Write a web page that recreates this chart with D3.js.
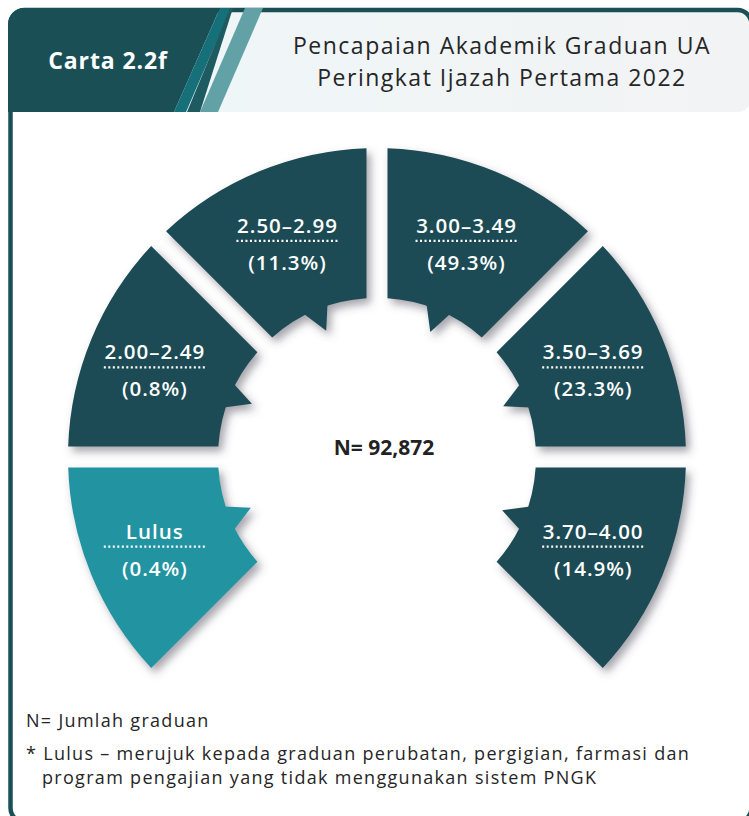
<!DOCTYPE html>
<head>
<meta charset="utf-8">
<script src="https://d3js.org/d3.v7.min.js"></script>
<style>
body {
  margin: 0;
  background-color: #fff;
}
text {
  font-family: "Open Sans", sans-serif;
}
</style>
</head>
<body>
<svg id="chart" width="749" height="816"></svg>

<script>
// data
var categories = ["Lulus", "2.00–2.49", "2.50–2.99", "3.00–3.49", "3.50–3.69", "3.70–4.00"];
var shares = [0.4, 0.8, 11.3, 49.3, 23.3, 14.9];
var totalN = 92872;
var chartNo = "Carta 2.2f";
var titleLines = ["Pencapaian Akademik Graduan UA", "Peringkat Ijazah Pertama 2022"];
var notes = ["N= Jumlah graduan",
             "* Lulus – merujuk kepada graduan perubatan, pergigian, farmasi dan",
             "program pengajian yang tidak menggunakan sistem PNGK"];

var dark = "#1b4b54",
    frameCol = "#194f55",
    light = "#2393a0";

var svg = d3.select("#chart");
var width = +svg.attr("width"),
    height = +svg.attr("height");

var defs = svg.append("defs");

var grad = defs.append("linearGradient").attr("id", "hdr");
grad.append("stop").attr("offset", "0%").attr("stop-color", "#eef7f9");
grad.append("stop").attr("offset", "100%").attr("stop-color", "#f2f3f4");

var shadow = defs.append("filter").attr("id", "shadow")
    .attr("x", "-20%").attr("y", "-20%").attr("width", "140%").attr("height", "140%");
shadow.append("feDropShadow")
    .attr("dx", 4).attr("dy", 5)
    .attr("stdDeviation", 4)
    .attr("flood-color", "#4a4a5a")
    .attr("flood-opacity", 0.5);

// ---- card + header ----
svg.append("rect")
    .attr("x", 10).attr("y", 10)
    .attr("width", 740).attr("height", 102)
    .attr("rx", 12)
    .attr("fill", "url(#hdr)");

svg.append("rect")
    .attr("x", 10.5).attr("y", 10)
    .attr("width", 741).attr("height", 812)
    .attr("rx", 14)
    .attr("fill", "none")
    .attr("stroke", frameCol)
    .attr("stroke-width", 4.5);

svg.append("path")
    .attr("d", "M8,112 V24 A16,16 0 0 1 24,8 H220 L174,112 Z")
    .attr("fill", frameCol);

svg.append("path")
    .attr("d", "M220,8 H231 L186,112 H174 Z")
    .attr("fill", "#16707a");

svg.append("path")
    .attr("d", "M230,8 H233 L200,112 H187 Z")
    .attr("fill", "#1e5b60");

svg.append("path")
    .attr("d", "M245,8 H263 L218,112 H200 Z")
    .attr("fill", "#62a1a5");

svg.append("text")
    .attr("x", 108).attr("y", 69)
    .attr("text-anchor", "middle")
    .attr("fill", "#fff")
    .attr("font-size", 23)
    .attr("font-weight", 700)
    .attr("letter-spacing", 0.9)
    .text(chartNo);

svg.selectAll(".title")
    .data(titleLines)
    .enter().append("text")
    .attr("class", "title")
    .attr("x", 502)
    .attr("y", function(d, i) { return 54 + i * 32; })
    .attr("text-anchor", "middle")
    .attr("fill", "#262626")
    .attr("font-size", 23)
    .attr("letter-spacing", 1.5)
    .text(function(d) { return d; });

// ---- the segmented half-ring ----
var cx = 377, cy = 457;
var outerR = 309, innerR = 159, gap = 21;

var angle = d3.scaleBand()
    .domain(categories)
    .range([-3 * Math.PI / 4, 3 * Math.PI / 4]);

var arc = d3.arc()
    .innerRadius(innerR)
    .outerRadius(outerR)
    .padRadius(outerR)
    .padAngle(gap / outerR);

var pieces = categories.map(function(c, i) {
  return {
    name: c,
    value: shares[i],
    startAngle: angle(c),
    endAngle: angle(c) + angle.bandwidth()
  };
});

var ring = svg.append("g")
    .attr("transform", "translate(" + cx + "," + cy + ")");

var piece = ring.selectAll("g.piece")
    .data(pieces)
    .enter().append("g")
    .attr("class", "piece")
    .attr("filter", "url(#shadow)");

piece.append("path")
    .attr("d", arc)
    .attr("fill", function(d) { return d.name == "Lulus" ? light : dark; });

// speech-bubble pointer on the inner edge
function polar(r, a) {
  return [r * Math.sin(a), -r * Math.cos(a)];
}
var half = 4.6 * Math.PI / 180;
piece.append("path")
    .attr("d", function(d) {
      var mid = (d.startAngle + d.endAngle) / 2;
      var p = [polar(innerR + 2, mid - half), polar(innerR - 23, mid + 0.01), polar(innerR + 2, mid + half)];
      return d3.line()(p) + "Z";
    })
    .attr("fill", function(d) { return d.name == "Lulus" ? light : dark; });

// labels
var labels = ring.selectAll("g.lab")
    .data(pieces)
    .enter().append("g")
    .attr("class", "lab")
    .attr("transform", function(d) {
      var c = arc.centroid(d);
      // left side labels sit a little further out in the original
      if (c[0] < -150) c[0] -= 6;
      return "translate(" + c[0] + "," + c[1] + ")";
    });

labels.append("text")
    .attr("y", -8)
    .attr("text-anchor", "middle")
    .attr("fill", "#fff")
    .attr("font-size", 20.5)
    .attr("font-weight", 600)
    .attr("letter-spacing", 1.0)
    .text(function(d) { return d.name; });

labels.append("line")
    .attr("x1", -51).attr("x2", 51)
    .attr("stroke", "#fff")
    .attr("stroke-width", 2.2)
    .attr("stroke-dasharray", "2,2.5");

labels.append("text")
    .attr("y", 29)
    .attr("text-anchor", "middle")
    .attr("fill", "#fff")
    .attr("font-size", 20.5)
    .attr("font-weight", 600)
    .attr("letter-spacing", 1.0)
    .text(function(d) { return "(" + d.value.toFixed(1) + "%)"; });

svg.append("text")
    .attr("x", cx + 7).attr("y", 455)
    .attr("text-anchor", "middle")
    .attr("fill", "#222")
    .attr("font-family", "'Liberation Sans', Arial, sans-serif")
    .attr("font-size", 21)
    .attr("font-weight", 700)
    .text("N= " + d3.format(",")(totalN));

// ---- footnotes ----
svg.selectAll(".note")
    .data(notes)
    .enter().append("text")
    .attr("class", "note")
    .attr("x", function(d, i) { return i == 2 ? 42 : 26; })
    .attr("y", function(d, i) { return [727, 760, 784][i]; })
    .attr("fill", "#262626")
    .attr("font-size", 18)
    .attr("letter-spacing", 1.3)
    .text(function(d) { return d; });
</script>
</body>
